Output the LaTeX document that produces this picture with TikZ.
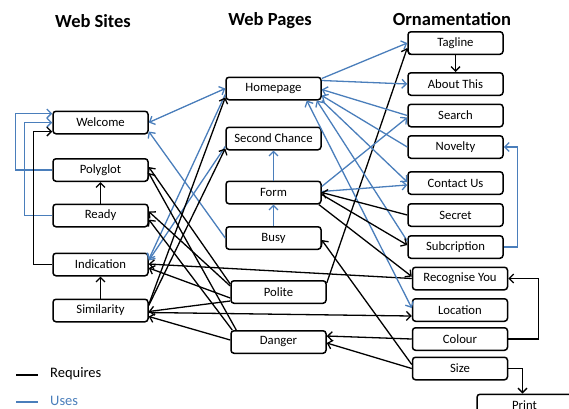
\documentclass[tikz,border=0pt]{standalone}
\usepackage{fontspec}
\setmainfont{Carlito}
\usetikzlibrary{arrows.meta}
\definecolor{usesblue}{RGB}{74,126,187}
\begin{document}
\begin{tikzpicture}[x=1pt,y=-1pt,
  box/.style={draw=black, line width=1.5pt, rounded corners=3pt,
    minimum width=95pt, minimum height=22.5pt, inner sep=0pt,
    font=\fontsize{12.7}{14}\selectfont},
  req/.style={draw=black, line width=1.3pt, -{Straight Barb[length=4.5pt,width=9pt]}},
  uses/.style={draw=usesblue, line width=1.3pt, -{Straight Barb[length=4.5pt,width=9pt]}},
  usesboth/.style={draw=usesblue, line width=1.3pt,
    {Straight Barb[length=4.5pt,width=9pt]}-{Straight Barb[length=4.5pt,width=9pt]}},
  head/.style={font=\bfseries\fontsize{18.5}{20}\selectfont},
  legend/.style={font=\fontsize{14.5}{16}\selectfont, anchor=west, inner sep=0pt}
]
\useasboundingbox (0,0) rectangle (569,408);
\clip (0,0) rectangle (569,408);

% column headings
\node[head] (hsites) at (93,21) {Web Sites};
\node[head] (hpages) at (270,21) {Web Pages};
\node[head] (horn) at (452,19) {Ornamentation};

% web sites
\node[box] (welcome) at (100.5,122.5) {Welcome};
\node[box] (polyglot) at (100.5,170) {Polyglot};
\node[box] (ready) at (100.5,215.5) {Ready};
\node[box] (indication) at (100.5,264.5) {Indication};
\node[box] (similarity) at (100.5,310.5) {Similarity};

% web pages
\node[box] (homepage) at (273.5,88.5) {Homepage};
\node[box] (second) at (273.5,138.5) {Second Chance};
\node[box] (form) at (273.5,192.5) {Form};
\node[box] (busy) at (273.5,238) {Busy};
\node[box] (polite) at (278.5,292) {Polite};
\node[box] (danger) at (278.5,342) {Danger};

% ornamentation
\node[box] (tagline) at (455.5,43) {Tagline};
\node[box] (about) at (455.5,84) {About This};
\node[box] (search) at (455.5,115.5) {Search};
\node[box] (novelty) at (455.5,147) {Novelty};
\node[box] (contact) at (455.5,183) {Contact Us};
\node[box] (secret) at (455.5,215) {Secret};
\node[box] (subcr) at (455.5,247) {Subcription};
\node[box] (recog) at (460,278.5) {Recognise You};
\node[box] (location) at (460,310) {Location};
\node[box] (colour) at (460,339) {Colour};
\node[box] (size) at (460,368.5) {Size};
\node[box] (print) at (524.5,405.5) {Print};

% links inside the web sites column
\draw[uses] (polyglot.west) -- ++(-37,0) |- ([yshift=9pt]welcome.west);
\draw[uses] (ready.west) -- ++(-28,0) |- (welcome.west);
\draw[req] (indication.west) -- ++(-19,0) |- ([yshift=-9pt]welcome.west);
\draw[req] (ready.north) -- (polyglot.south);
\draw[req] (similarity.north) -- (indication.south);

% links inside the web pages column
\draw[uses] (form.north) -- (second.south);
\draw[uses] (busy.north) -- (form.south);

% links inside the ornamentation column
\draw[req] (tagline.south) -- (about.north);
\draw[uses] (subcr.east) -- ++(14,0) |- (novelty.east);
\draw[req] (colour.east) -- ++(30,0) |- (recog.east);
\draw[req] (size.east) -| ([xshift=-2pt]print.north);

% pages and sites
\draw[usesboth] (homepage.west) -- (welcome.east);
\draw[uses] (busy.west) -- ([yshift=-9pt]welcome.east);
\draw[uses] ([yshift=-6pt]homepage.west) -- ([yshift=5pt]indication.east);
\draw[uses] ([yshift=-8pt]second.west) -- ([yshift=4pt]indication.east);
\draw[req] ([yshift=6pt]similarity.east) -- ([yshift=-9pt]homepage.west);
\draw[req] ([yshift=5pt]similarity.east) -- ([yshift=-10pt]second.west);
\draw[req] ([yshift=8pt]polite.west) -- ([yshift=3pt]polyglot.east);
\draw[req] ([xshift=6pt]danger.north west) -- ([yshift=-3pt]polyglot.east);
\draw[req] ([yshift=6pt]polite.west) -- ([yshift=4pt]ready.east);
\draw[req] ([xshift=2pt]danger.north west) -- ([yshift=-4pt]ready.east);
\draw[req] ([yshift=-6pt]polite.west) -- ([yshift=-3.5pt]indication.east);
\draw[req] ([yshift=-9pt]polite.west) -- ([yshift=-1pt]similarity.east);
\draw[req] ([yshift=2pt]danger.west) -- ([yshift=-6pt]similarity.east);

% ornamentation and sites
\draw[req] (recog.west) -- ([yshift=0.5pt]indication.east);
\draw[req] ([yshift=-2pt]similarity.east) -- ([yshift=-6pt]location.west);

% ornamentation and pages
\draw[req] (colour.west) -- ([yshift=6pt]danger.east);
\draw[req] (size.west) -- ([yshift=-1pt]danger.east);
\draw[req] ([yshift=4pt]size.west) -- ([yshift=-2pt]busy.east);
\draw[req] ([yshift=9pt]polite.east) -- ([yshift=-5pt]tagline.west);
\draw[uses] ([yshift=10pt]homepage.east) -- (tagline.west);
\draw[uses] ([yshift=8pt]homepage.east) -- (about.west);
\draw[uses] (search.west) -- ([yshift=-1pt]homepage.east);
\draw[uses] (novelty.west) -- ([yshift=-7pt]homepage.east);
\draw[uses] (homepage.south east) -- ([yshift=1pt]contact.west);
\draw[uses] ([yshift=6pt]subcr.west) -- ([xshift=-5pt]homepage.south east);
\draw[usesboth] ([xshift=-15pt]homepage.south east) -- ([yshift=2pt]location.west);
\draw[uses] ([yshift=6pt]form.east) -- ([yshift=-2pt]search.west);
\draw[uses] ([yshift=1pt]form.east) -- ([yshift=-2pt]contact.west);
\draw[req] (secret.west) -- (form.east);
\draw[req] ([yshift=-2pt]form.east) -- ([yshift=2pt]subcr.west);
\draw[req] ([xshift=-3pt]form.south east) -- ([yshift=2pt]recog.west);

% legend
\coordinate (lr1) at (16,375);
\coordinate (lr2) at (38,375);
\coordinate (lu1) at (16,402);
\coordinate (lu2) at (38,402);
\draw[black, line width=1.5pt] (lr1) -- (lr2);
\draw[usesblue, line width=1.5pt] (lu1) -- (lu2);
\node[legend] (lreq) at (50,374) {Requires};
\node[legend, text=usesblue] (luse) at (50,401) {Uses};
\end{tikzpicture}
\end{document}
